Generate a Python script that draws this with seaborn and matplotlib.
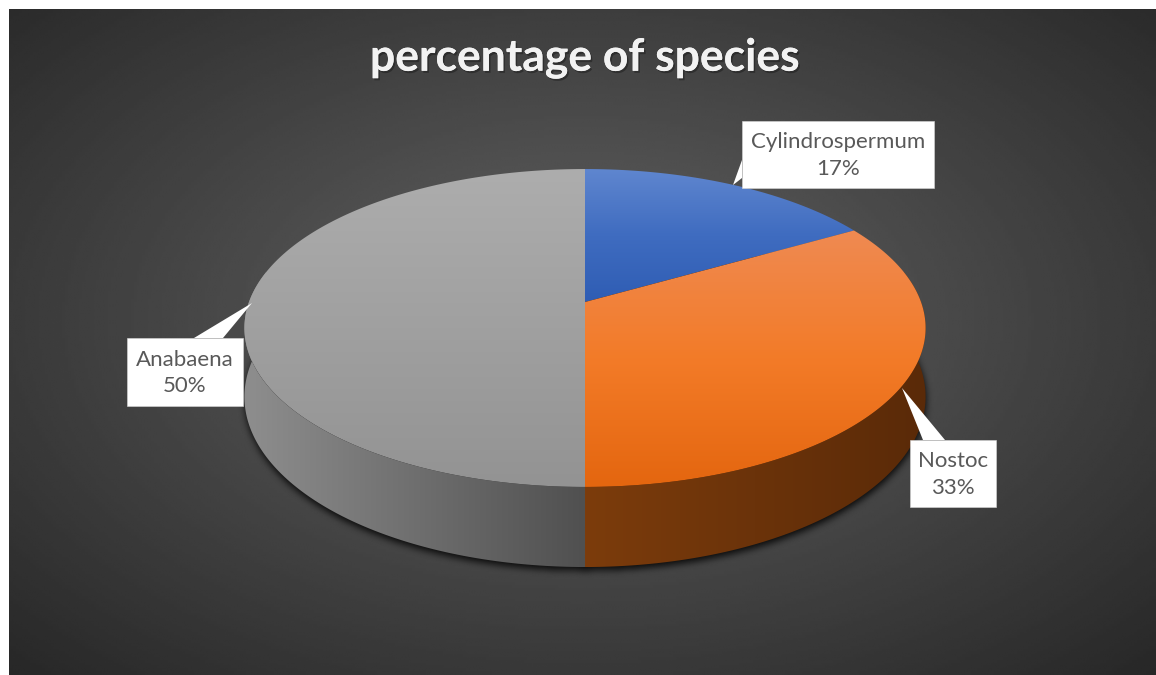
import numpy as np
import matplotlib
matplotlib.use("Agg")
import matplotlib.pyplot as plt
import matplotlib.patheffects as pe
from matplotlib.patches import Polygon
from matplotlib.path import Path
import seaborn as sns

# Chart content
TITLE = "percentage of species"
species = ["Cylindrospermum", "Nostoc", "Anabaena"]
counts = [1, 2, 3]
top_colors = [("#5F86CF", "#3F6CC0", "#2F5DB4"),
              ("#EF8A52", "#F37B28", "#E4660F"),
              ("#ADADAD", "#A0A0A0", "#939393")]
side_colors = [("#2F4F8A", "#223A66"), ("#7C3C0C", "#5A2A08"), ("#8E8E8E", "#505050")]
label_boxes = [(742, 121, 934, 188), (910, 440, 996, 507), (127, 338, 243, 406)]
label_tips = [(733, 185), (902, 388), (252, 303)]
tip_bases = [((742, 160), (742, 178)), ((923, 440), (945, 440)), ((194, 338), (223, 338))]

W, H = 1156, 675
CX, CY = 585, 302
RX, RY, PERSP = 336, 154.7, 0.1635
DEPTH = 67

sns.set_theme(style="white")
plt.rcParams["font.family"] = ["Lato", "DejaVu Sans"]

fig = plt.figure(figsize=(W / 100, H / 100), dpi=100, facecolor="white")
ax = fig.add_axes([0, 0, 1, 1])
ax.set_xlim(0, W)
ax.set_ylim(H, 0)
ax.axis("off")


def project(theta, r=1.0, drop=0.0):
    """Perspective projection of a disc point; theta runs clockwise from the back."""
    u, v = r * np.sin(theta), r * np.cos(theta)
    d = 1 + PERSP * v
    return CX + RX * u / d, CY - RY * v / d + drop / d


def gradient(colors, horizontal=False):
    rgb = np.array([matplotlib.colors.to_rgb(c) for c in colors])
    t = np.linspace(0, 1, 256)
    stops = np.linspace(0, 1, len(colors))
    line = np.stack([np.interp(t, stops, rgb[:, k]) for k in range(3)], axis=1)
    return line[None, :, :] if horizontal else line[:, None, :]


def box_blur(a, size, passes=3):
    kernel = np.ones(size) / size
    for _ in range(passes):
        a = np.apply_along_axis(lambda m: np.convolve(m, kernel, mode="same"), 0, a)
        a = np.apply_along_axis(lambda m: np.convolve(m, kernel, mode="same"), 1, a)
    return a


# Background panel with a radial falloff
px, py = np.meshgrid(np.linspace(9, W, 400), np.linspace(9, H, 240))
dist = np.hypot((px - 582) / 720, (py - 320) / 430)
shade = np.clip(0.39 - 0.205 * dist, 0.1, 1)
ax.imshow(shade, cmap="gray", vmin=0, vmax=1, extent=(9, W, H, 9),
          aspect="auto", interpolation="bilinear", zorder=0)

# Soft contact shadow below the disc
gx, gy = np.meshgrid(np.arange(200, 980), np.arange(200, 610))
sx, sy = project(np.linspace(0, 2 * np.pi, 360), drop=DEPTH)
inside = Path(np.c_[sx, sy + 3]).contains_points(np.c_[gx.ravel(), gy.ravel()]).reshape(gx.shape)
rgba = np.zeros(gx.shape + (4,))
rgba[..., 3] = np.clip(box_blur(inside.astype(float), 7), 0, 1) * 0.85
ax.imshow(rgba, extent=(200, 980, 610, 200), aspect="auto", interpolation="bilinear", zorder=1)

fractions = np.array(counts) / np.sum(counts)
edges = np.concatenate([[0], np.cumsum(fractions)]) * 2 * np.pi

# Side walls: only the front half of the rim is visible
for i in range(3):
    start, stop = max(edges[i], np.pi / 2 - 0.2), min(edges[i + 1], 3 * np.pi / 2 + 0.2)
    if stop <= start:
        continue
    th = np.linspace(start, stop, 200)
    x0, y0 = project(th)
    x1, y1 = project(th, drop=DEPTH)
    poly = Polygon(np.r_[np.c_[x0, y0], np.c_[x1, y1][::-1]], closed=True, fc="none", ec="none")
    ax.add_patch(poly)
    xl, xr = min(x0.min(), x1.min()), max(x0.max(), x1.max())
    yt, yb = min(y0.min(), y1.min()), max(y0.max(), y1.max())
    im = ax.imshow(gradient(side_colors[i], horizontal=True), extent=(xl, xr, yb, yt),
                   aspect="auto", zorder=2)
    im.set_clip_path(poly)

# Top face slices, each with a vertical gradient
for i in range(3):
    th = np.linspace(edges[i], edges[i + 1], 300)
    xs, ys = project(th)
    verts = np.r_[[[CX, CY]], np.c_[xs, ys]]
    poly = Polygon(verts, closed=True, fc="none", ec="none")
    ax.add_patch(poly)
    im = ax.imshow(gradient(top_colors[i]), extent=(verts[:, 0].min(), verts[:, 0].max(),
                                                     verts[:, 1].max(), verts[:, 1].min()),
                   aspect="auto", zorder=3)
    im.set_clip_path(poly)

# Callout labels with percentage
for name, frac, box, tip, base in zip(species, fractions, label_boxes, label_tips, tip_bases):
    x0, y0, x1, y1 = box
    ax.add_patch(Polygon([tip, base[0], base[1]], closed=True, fc="white", ec="none", zorder=5))
    ax.add_patch(Polygon([(x0, y0), (x1, y0), (x1, y1), (x0, y1)], closed=True, fc="white",
                         ec="#D8D8D8", lw=0.4, zorder=5))
    ax.text((x0 + x1) / 2, (y0 + y1) / 2 + 1, f"{name}\n{frac:.0%}", ha="center", va="center",
            fontsize=16, color="#595959", linespacing=1.4, zorder=6)

# Title with a faint drop shadow
ax.text(585, 58, TITLE, ha="center", va="center", color="#F2F2F2", fontsize=32, fontweight="bold",
        path_effects=[pe.withSimplePatchShadow(offset=(1.2, -1.5), shadow_rgbFace="black", alpha=0.3),
                      pe.Normal()], zorder=6)

ax.set_xlim(0, W)
ax.set_ylim(H, 0)
fig.savefig("out.png", dpi=100, facecolor="white")
